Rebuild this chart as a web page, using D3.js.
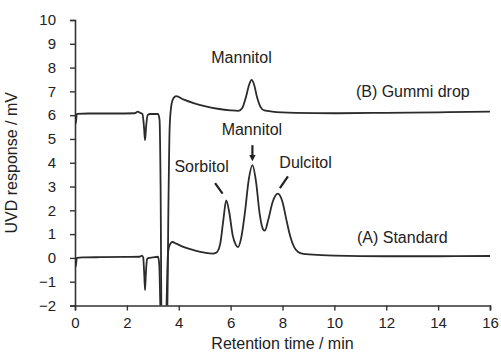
<!DOCTYPE html>
<html lang="en">
<head>
    <meta charset="utf-8" />
    <title>UVD chromatogram</title>
    <script src="https://d3js.org/d3.v7.min.js"></script>
    <style>
        body { margin: 0; background: #fff; }
        text { font-family: "Liberation Sans", Arial, sans-serif; fill: #222; }
    </style>
</head>
<body>
    <div id="chart"></div>
    <script>
        // (A) Standard trace
        const timeA = [0, 0.03, 0.07, 0.3, 1.0, 2.0, 2.5, 2.58, 2.63, 2.67, 2.7, 2.73, 2.78, 2.85, 3.0, 3.2, 3.25, 3.29, 3.33,
            3.5, 3.54, 3.58, 3.62, 3.68, 3.75, 3.9, 4.2, 4.6, 5.0, 5.3, 5.45, 5.6, 5.72, 5.83, 5.95, 6.08, 6.2, 6.28,
            6.4, 6.55, 6.7, 6.84, 6.98, 7.12, 7.25, 7.32, 7.45, 7.62, 7.82, 8.0, 8.15, 8.3, 8.45, 8.6, 8.8, 9.5,
            10, 12, 14, 16];
        const valueA = [0, -0.35, 0, 0.02, 0.03, 0.04, 0.05, 0.1, 0.02, -0.7, -1.35, -0.7, -0.05, 0, 0.02, 0.05, -0.3, -2, -3,
            -3, -1.5, 0.1, 0.45, 0.6, 0.67, 0.6, 0.45, 0.32, 0.22, 0.18, 0.22, 0.6, 1.6, 2.42, 1.9, 0.95, 0.55, 0.45,
            0.8, 1.9, 3.3, 3.9, 3.2, 1.85, 1.2, 1.15, 1.6, 2.35, 2.7, 2.35, 1.6, 0.9, 0.45, 0.25, 0.17, 0.12,
            0.1, 0.07, 0.07, 0.08];

        // (B) Gummi drop trace
        const timeB = [0, 0.03, 0.07, 0.5, 1.5, 2.3, 2.42, 2.5, 2.6, 2.66, 2.7, 2.74, 2.8, 2.9, 3.2, 3.26, 3.3, 3.34,
            3.55, 3.6, 3.65, 3.72, 3.8, 3.9, 4.2, 4.6, 5.0, 5.5, 6.0, 6.3, 6.45, 6.6, 6.72, 6.81, 6.9, 7.02, 7.15,
            7.3, 7.6, 8.5, 10, 12, 14, 16];
        const valueB = [6.05, 5.65, 6.05, 6.07, 6.07, 6.08, 6.15, 6.1, 6.05, 5.5, 4.95, 5.5, 6.0, 6.05, 6.05, 5.8, 3, -3,
            -3, 2, 5.5, 6.45, 6.72, 6.8, 6.65, 6.5, 6.38, 6.27, 6.2, 6.18, 6.3, 6.8, 7.3, 7.48, 7.3, 6.75, 6.35,
            6.2, 6.15, 6.1, 6.08, 6.1, 6.12, 6.15];

        const xTicks = [0, 2, 4, 6, 8, 10, 12, 14, 16];
        const yTicks = [-2, -1, 0, 1, 2, 3, 4, 5, 6, 7, 8, 9, 10];

        // annotations: text, time, response, anchor
        const labelText = ["Mannitol", "(B) Gummi drop", "Mannitol", "Sorbitol", "Dulcitol", "(A) Standard"];
        const labelTime = [6.42, 10.83, 6.82, 4.88, 8.89, 10.87];
        const labelValue = [8.19, 6.76, 5.16, 3.6, 3.77, 0.61];
        const labelAnchor = ["middle", "start", "middle", "middle", "middle", "start"];

        // pointer lines: [t1, v1, t2, v2]
        const pointers = [[6.84, 4.74, 6.84, 4.2], [5.40, 3.14, 5.69, 2.70], [8.21, 3.43, 7.90, 2.93]];

        const W = 501, H = 353;
        const margin = { top: 20, right: 11, bottom: 47.5, left: 75 };
        const width = W - margin.left - margin.right;
        const height = H - margin.top - margin.bottom;

        const svg = d3.select("#chart").append("svg")
            .attr("width", W)
            .attr("height", H);

        const chart = svg.append("g")
            .attr("transform", `translate(${margin.left},${margin.top})`);

        const x = d3.scaleLinear().domain([0, 16]).range([0, width]);
        const y = d3.scaleLinear().domain([-2, 10]).range([height, 0]);

        svg.append("defs").append("clipPath").attr("id", "plot")
            .append("rect").attr("x", 0).attr("y", -10).attr("width", width + 2).attr("height", height + 10);

        // axes
        const xAxis = chart.append("g")
            .attr("transform", `translate(0,${height})`)
            .call(d3.axisBottom(x).tickValues(xTicks).tickSize(5).tickPadding(7));
        const yAxis = chart.append("g")
            .call(d3.axisLeft(y).tickValues(yTicks).tickSize(5).tickPadding(14));

        [xAxis, yAxis].forEach(a => {
            a.select(".domain").attr("stroke", "#333").attr("stroke-width", 1.6);
            a.selectAll(".tick line").attr("stroke", "#333").attr("stroke-width", 1.4);
            a.selectAll(".tick text").attr("font-size", 15).attr("fill", "#222")
                .style("font-family", "'Liberation Sans', Arial, sans-serif");
        });

        chart.append("text")
            .attr("x", width / 2).attr("y", height + 43)
            .attr("text-anchor", "middle").attr("font-size", 16)
            .text("Retention time / min");

        chart.append("text")
            .attr("transform", `translate(${-58},${y(4)}) rotate(-90)`)
            .attr("text-anchor", "middle").attr("font-size", 16)
            .text("UVD response / mV");

        // traces
        const line = d3.line().x(d => x(d[0])).y(d => y(d[1])).curve(d3.curveMonotoneX);
        const traces = [d3.zip(timeA, valueA), d3.zip(timeB, valueB)];

        chart.append("g").attr("clip-path", "url(#plot)")
            .selectAll("path").data(traces).enter().append("path")
            .attr("d", line)
            .attr("fill", "none")
            .attr("stroke", "#2b2b2b")
            .attr("stroke-width", 1.8)
            .attr("stroke-linejoin", "round");

        // labels
        chart.selectAll(".lbl").data(labelText).enter().append("text")
            .attr("class", "lbl")
            .attr("x", (d, i) => x(labelTime[i]))
            .attr("y", (d, i) => y(labelValue[i]))
            .attr("text-anchor", (d, i) => labelAnchor[i])
            .attr("font-size", 16)
            .text(d => d);

        svg.select("defs").append("marker")
            .attr("id", "head").attr("viewBox", "0 0 10 10")
            .attr("refX", 5).attr("refY", 5)
            .attr("markerWidth", 3).attr("markerHeight", 3)
            .attr("orient", "auto")
            .append("path").attr("d", "M0,0L10,5L0,10Z").attr("fill", "#222");

        chart.selectAll(".ptr").data(pointers).enter().append("line")
            .attr("class", "ptr")
            .attr("x1", d => x(d[0])).attr("y1", d => y(d[1]))
            .attr("x2", d => x(d[2])).attr("y2", d => y(d[3]))
            .attr("stroke", "#222").attr("stroke-width", 2.2)
            .attr("marker-end", (d, i) => i === 0 ? "url(#head)" : null);
    </script>
</body>
</html>
